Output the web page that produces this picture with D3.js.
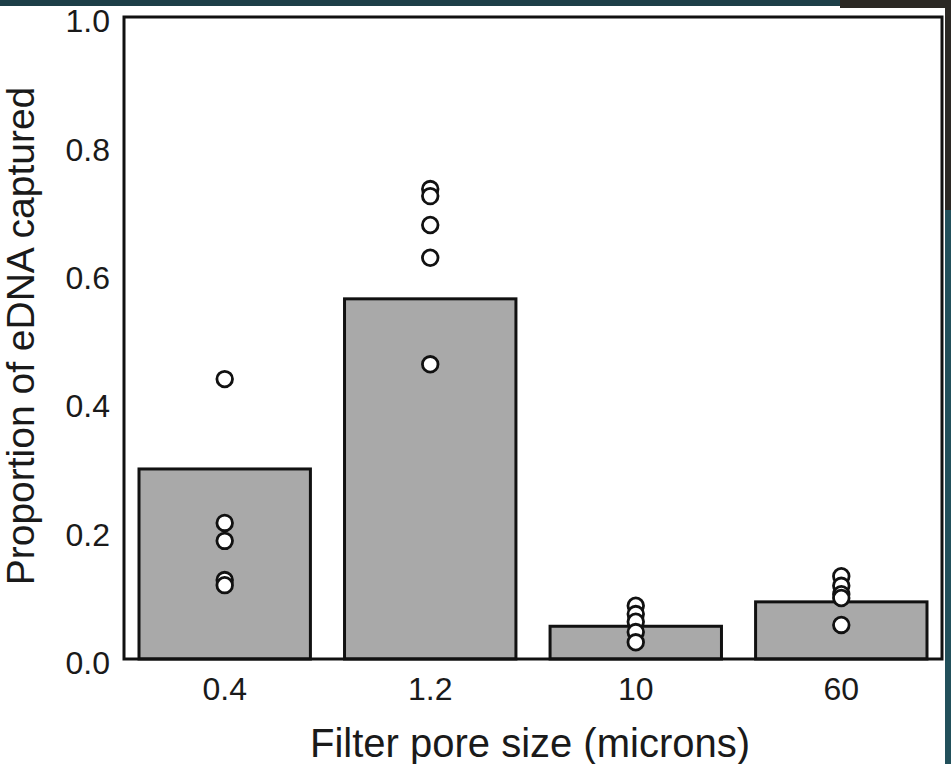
<!DOCTYPE html>
<html>

<head>
  <meta charset="utf-8">
  <title>eDNA capture</title>
  <style>
    body {
      margin: 0;
      background-color: #fff;
      font-family: 'Liberation Sans', Arial, sans-serif;
    }

    .bar {
      fill: #a9a9a9;
      stroke: #111;
      stroke-width: 3px;
    }

    .dot {
      fill: #fff;
      stroke: #111;
      stroke-width: 2.8px;
    }

    .frame {
      fill: none;
      stroke: #111;
      stroke-width: 3px;
    }

    .tick text {
      fill: #1a1a1a;
    }
  </style>
</head>

<body>
  <div id="chart"></div>
  <script src="https://cdnjs.cloudflare.com/ajax/libs/d3/7.8.5/d3.min.js"></script>
  <script>
    // categories and values
    var poreSizes = ['0.4', '1.2', '10', '60'];
    var barValues = [0.296, 0.561, 0.051, 0.089];
    var points04 = [0.436, 0.212, 0.184, 0.123, 0.115];
    var points12 = [0.732, 0.721, 0.676, 0.625, 0.459];
    var points10 = [0.083, 0.070, 0.058, 0.042, 0.026];
    var points60 = [0.129, 0.114, 0.101, 0.095, 0.053];
    var yTicks = [0, 0.2, 0.4, 0.6, 0.8, 1.0];

    var pointSets = [points04, points12, points10, points60];

    var width = 951,
      height = 764;

    var margin = {
      top: 17,
      right: 9,
      bottom: 105,
      left: 124
    };

    var svg = d3.select("#chart").append("svg")
      .attr("width", width)
      .attr("height", height);

    // background bits from the screenshot edges
    svg.append("rect")
      .attr("width", width).attr("height", height)
      .attr("fill", "#fff");
    svg.append("rect")
      .attr("x", 0).attr("y", 0)
      .attr("width", width).attr("height", 6)
      .attr("fill", "#1d3e47");
    svg.append("rect")
      .attr("x", 945).attr("y", 0)
      .attr("width", 6).attr("height", height)
      .attr("fill", "#22505b");
    svg.append("rect")
      .attr("x", 840).attr("y", 0)
      .attr("width", 111).attr("height", 8)
      .attr("fill", "#2b2824");
    svg.append("rect")
      .attr("x", 945).attr("y", 0)
      .attr("width", 6).attr("height", 210)
      .attr("fill", "#2b2824");

    var x = d3.scaleBand()
      .domain(poreSizes)
      .range([margin.left, width - margin.right])
      .paddingInner(0.166)
      .paddingOuter(0.073);

    var y = d3.scaleLinear()
      .domain([0, 1])
      .range([height - margin.bottom, margin.top]);

    // bars
    svg.selectAll("rect.bar")
      .data(barValues)
      .enter().append("rect")
      .attr("class", "bar")
      .attr("x", function(d, i) { return x(poreSizes[i]); })
      .attr("y", function(d) { return y(d); })
      .attr("width", x.bandwidth())
      .attr("height", function(d) { return y(0) - y(d); });

    // individual replicate points
    var dots = [];
    pointSets.forEach(function(set, i) {
      set.forEach(function(v) {
        dots.push({ cat: poreSizes[i], value: v });
      });
    });

    svg.selectAll("circle.dot")
      .data(dots)
      .enter().append("circle")
      .attr("class", "dot")
      .attr("cx", function(d) { return x(d.cat) + x.bandwidth() / 2; })
      .attr("cy", function(d) { return y(d.value); })
      .attr("r", 7.8);

    // axes (labels only, no tick marks)
    var yAxis = svg.append("g")
      .attr("transform", "translate(" + margin.left + ",0)")
      .call(d3.axisLeft(y).tickValues(yTicks).tickFormat(d3.format(".1f"))
        .tickSize(0).tickPadding(14));
    yAxis.select(".domain").remove();
    yAxis.selectAll("text")
      .attr("font-size", 32)
      .attr("font-family", "'Liberation Sans', Arial, sans-serif")
      .attr("dy", "0.46em");

    var xAxis = svg.append("g")
      .attr("transform", "translate(0," + (height - margin.bottom) + ")")
      .call(d3.axisBottom(x).tickSize(0).tickPadding(18));
    xAxis.select(".domain").remove();
    xAxis.selectAll("text")
      .attr("font-size", 32)
      .attr("font-family", "'Liberation Sans', Arial, sans-serif")
      .attr("dy", "0.71em");

    // frame around the plot
    svg.append("rect")
      .attr("class", "frame")
      .attr("x", margin.left)
      .attr("y", margin.top)
      .attr("width", width - margin.right - margin.left)
      .attr("height", height - margin.bottom - margin.top);

    // axis titles
    svg.append("text")
      .attr("x", (margin.left + width - margin.right) / 2 - 3)
      .attr("y", 757)
      .attr("text-anchor", "middle")
      .attr("font-size", 40)
      .attr("fill", "#1a1a1a")
      .text("Filter pore size (microns)");

    svg.append("text")
      .attr("transform", "translate(34,336) rotate(-90)")
      .attr("text-anchor", "middle")
      .attr("font-size", 39)
      .attr("fill", "#1a1a1a")
      .text("Proportion of eDNA captured");
  </script>
</body>

</html>
